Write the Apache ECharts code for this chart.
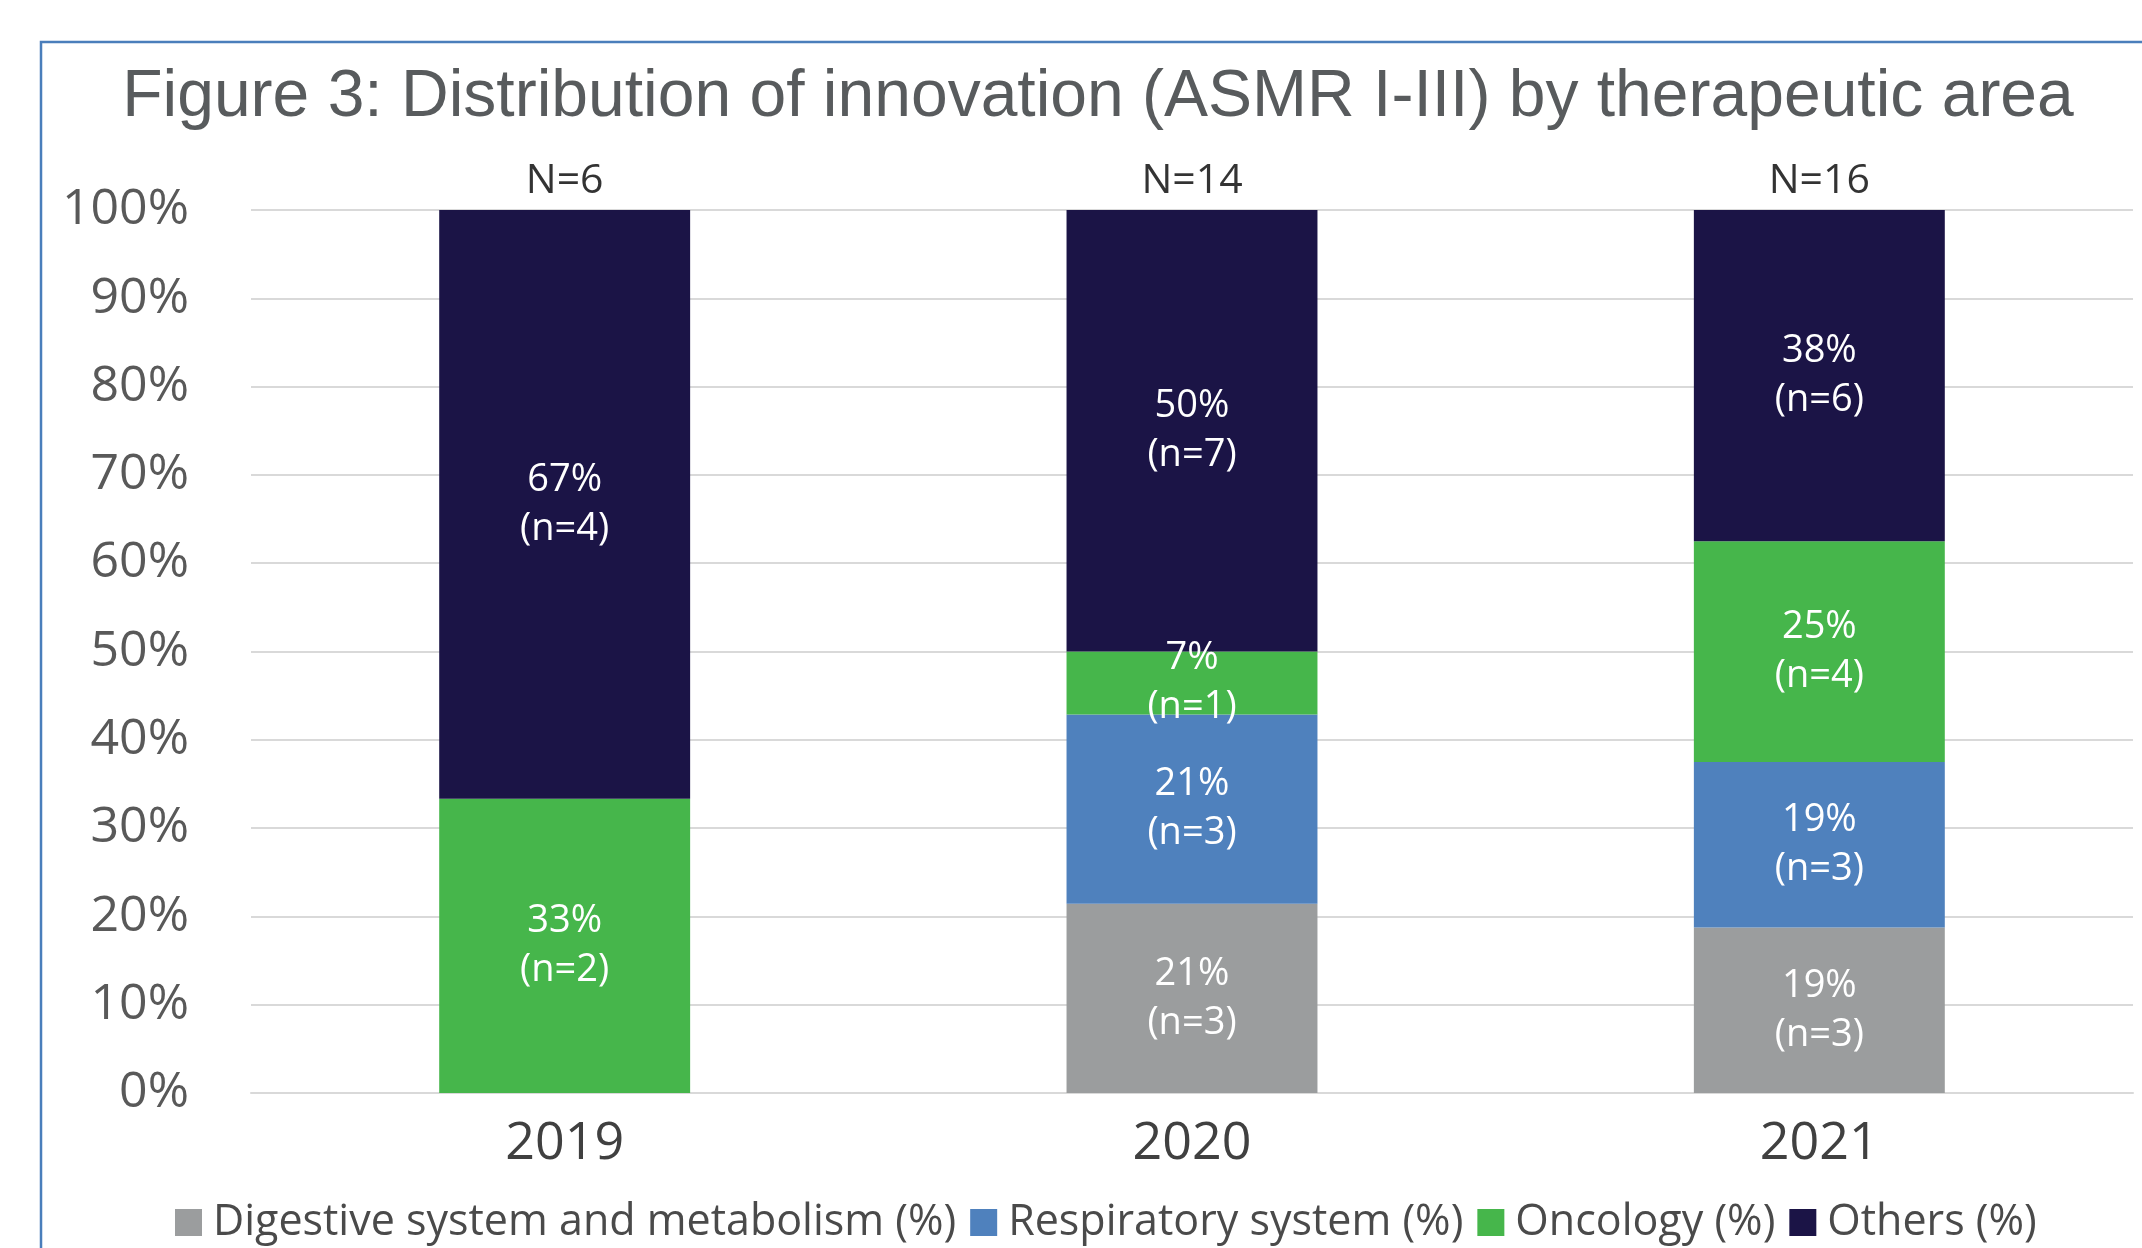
<!DOCTYPE html>
<html>
<head>
<meta charset="utf-8">
<script src="https://cdn.jsdelivr.net/npm/echarts@6/dist/echarts.min.js"></script>
<style>
html,body{margin:0;padding:0;background:#fff;}
#chart{width:2142px;height:1248px;}
</style>
</head>
<body>
<div id="chart"></div>
<script>
// ---- data ----
const categories = ['2019', '2020', '2021'];
const totals = [6, 14, 16];
const seriesNames = ['Digestive system and metabolism (%)', 'Respiratory system (%)', 'Oncology (%)', 'Others (%)'];
const digestivePct = [0, 21.43, 18.75];
const respiratoryPct = [0, 21.43, 18.75];
const oncologyPct = [33.33, 7.14, 25];
const othersPct = [66.67, 50, 37.5];
const digestiveN = [0, 3, 3];
const respiratoryN = [0, 3, 3];
const oncologyN = [2, 1, 4];
const othersN = [4, 7, 6];
const totalMarkerLevel = [100, 100, 100];

const colors = ['#9b9d9e', '#4f81bd', '#46b64b', '#1b1446'];
const FONT = "'Open Sans', sans-serif";

const pctArrays = [digestivePct, respiratoryPct, oncologyPct, othersPct];
const nArrays = [digestiveN, respiratoryN, oncologyN, othersN];

const chart = echarts.init(document.getElementById('chart'), null, {renderer: 'canvas'});

const barSeries = seriesNames.map((name, si) => ({
  name: name,
  type: 'bar',
  stack: 'total',
  barWidth: '40%',
  itemStyle: {color: colors[si]},
  data: pctArrays[si],
  label: {
    show: true,
    position: 'inside',
    color: '#ffffff',
    fontFamily: FONT,
    fontSize: 38,
    lineHeight: 49,
    formatter: p => {
      if (!p.value) return '';
      return Math.round(p.value) + '%\n(n=' + nArrays[si][p.dataIndex] + ')';
    }
  },
  emphasis: {disabled: true}
}));

const totalSeries = {
  name: 'N',
  type: 'scatter',
  symbolSize: 0,
  data: totalMarkerLevel,
  label: {
    show: true,
    position: 'top',
    distance: 8,
    color: '#000000',
    fontFamily: FONT,
    fontSize: 41,
    formatter: p => 'N=' + totals[p.dataIndex]
  },
  silent: true,
  z: 5
};

chart.setOption({
  animation: false,
  backgroundColor: '#ffffff',
  title: {
    text: 'Figure 3: Distribution of innovation (ASMR I-III) by therapeutic area',
    left: 1098,
    top: 65,
    padding: 0,
    textAlign: 'center',
    textStyle: {
      fontFamily: "'Liberation Sans', Arial, sans-serif",
      fontWeight: 'normal',
      fontSize: 66,
      color: '#585b5d'
    }
  },
  graphic: [{
    type: 'rect',
    shape: {x: 41, y: 42, width: 2300, height: 1400},
    style: {fill: 'none', stroke: '#4a7ebb', lineWidth: 2.5},
    silent: true
  }],
  legend: {
    data: seriesNames,
    left: 175,
    top: 1201,
    padding: 0,
    itemWidth: 27,
    itemHeight: 27,
    itemGap: 14,
    icon: 'rect',
    textStyle: {fontFamily: FONT, fontSize: 43, color: '#4a4a4a', padding: [0, 0, 0, 6]}
  },
  grid: {left: 251, right: 9, top: 210, bottom: 155, containLabel: false},
  xAxis: {
    type: 'category',
    data: categories,
    axisLine: {show: true, lineStyle: {color: '#d9d9d9', width: 2}},
    axisTick: {show: false},
    axisLabel: {fontFamily: FONT, fontSize: 52, color: '#404040', margin: 25}
  },
  yAxis: {
    type: 'value',
    min: 0,
    max: 100,
    interval: 10,
    axisLine: {show: false},
    axisTick: {show: false},
    splitLine: {lineStyle: {color: '#d9d9d9', width: 2}},
    axisLabel: {fontFamily: FONT, fontSize: 50, color: '#595959', margin: 62, formatter: v => v + '%'}
  },
  series: barSeries.concat([totalSeries])
});
</script>
</body>
</html>
